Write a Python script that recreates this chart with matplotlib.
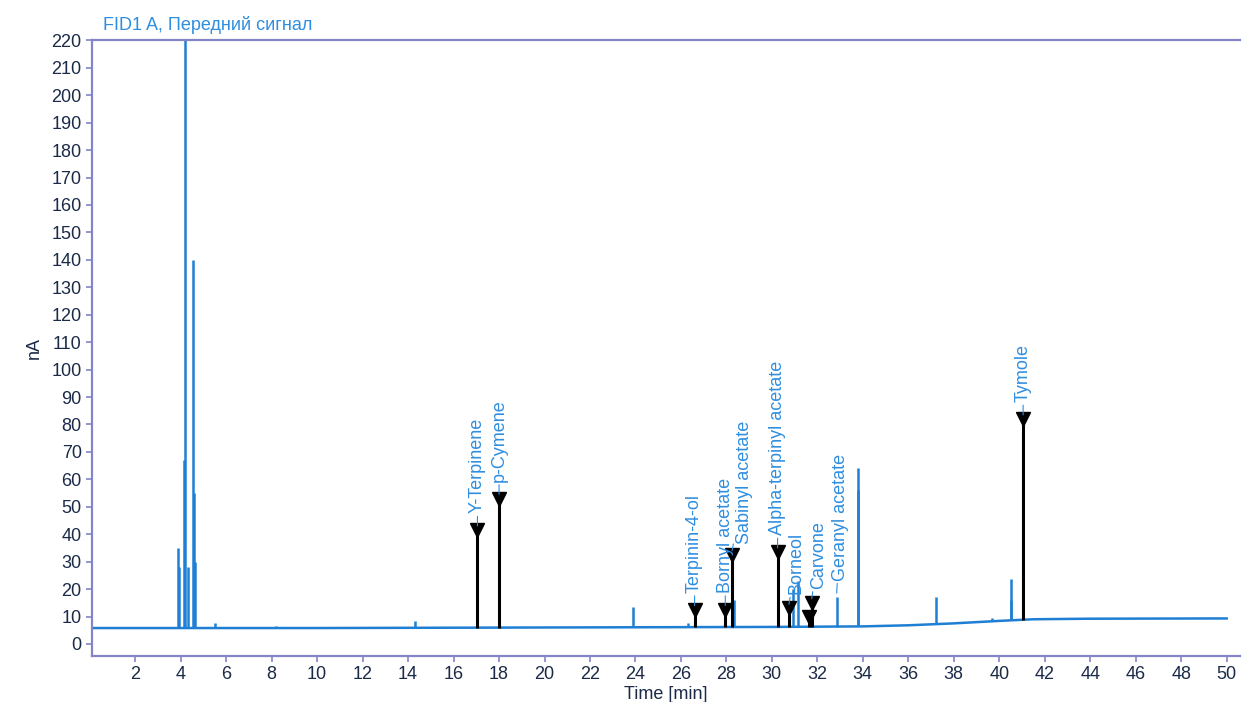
import matplotlib
matplotlib.use("Agg")
import matplotlib.pyplot as plt
import numpy as np

plt.rcParams['font.family'] = ['Liberation Sans', 'DejaVu Sans']

# baseline of the FID trace (time [min], signal [nA])
baseline_t = [0.1, 3.8, 5.0, 10, 15, 20, 25, 30, 34, 36, 38, 40, 41.5, 44, 50]
baseline_v = [5.8, 5.8, 5.8, 5.8, 5.9, 6.0, 6.1, 6.2, 6.4, 6.8, 7.5, 8.4, 9.0, 9.2, 9.3]

# unlabelled peaks (blue)
peak_t = [3.88, 3.93, 4.15, 4.2, 4.3, 4.55, 4.6, 4.62, 5.5, 8.2, 14.3, 23.9, 26.3,
          28.35, 30.95, 31.15, 32.85, 33.78, 33.8, 37.2, 39.7, 40.5, 40.52]
peak_h = [35, 28, 67, 230, 28, 140, 55, 30, 7.8, 6.6, 8.5, 13.5, 7.5,
          16, 20, 23, 17, 56, 64, 17, 9.5, 23.5, 16]

# identified peaks (labels)
ann_names = ["Y-Terpinene", "p-Cymene", "Terpinin-4-ol", "Bornyl acetate",
             "Sabinyl acetate", "Alpha-terpinyl acetate", "Borneol", "Carvone",
             "Geranyl acetate", "Tymole"]
ann_t = [17.05, 18.0, 26.6, 27.95, 28.25, 30.25, 30.75, 31.75, 32.85, 41.05]
ann_h = [41.5, 53, 12.5, 12.5, 32.5, 33.5, 13, 15, 17, 82]
ann_marker = [True, True, True, True, True, True, True, True, False, True]
extra_marker_t = [31.65]
extra_marker_h = [10]

# label offsets (points) for crowded labels
label_dx = [0, 0, 0, 0, 9, 0, 5, 5, 3, 0]
label_dy = [4, 4, 4, 4, 0, 4, 2, 2, 4, 4]

blue = '#1f7fd4'
text_blue = '#2f8ee0'
spine_c = '#8484c8'
tick_c = '#1b2a48'

fig = plt.figure(figsize=(12.44, 7.02), dpi=100)
ax = fig.add_axes([0.074, 0.0655, 0.923, 0.877])


def base_at(t):
    return np.interp(t, baseline_t, baseline_v)


ax.plot(baseline_t, baseline_v, color=blue, lw=1.8, zorder=2)
ax.vlines(peak_t, base_at(peak_t), peak_h, color=blue, lw=1.8, zorder=2)

bt = [t for t, m in zip(ann_t, ann_marker) if m] + extra_marker_t
bh = [h for h, m in zip(ann_h, ann_marker) if m] + extra_marker_h
ax.vlines(bt, base_at(bt), bh, color='black', lw=2.2, zorder=3)
ax.plot(bt, bh, 'v', color='black', markersize=10, zorder=4, clip_on=False)

for name, t, h, dx, dy in zip(ann_names, ann_t, ann_h, label_dx, label_dy):
    ax.annotate(name, xy=(t, h + 1.5), xytext=(dx, dy + 5), textcoords='offset points',
                rotation=90, ha='center', va='bottom', fontsize=13, color=text_blue,
                arrowprops=dict(arrowstyle='-', color=text_blue, lw=0.8,
                                shrinkA=0, shrinkB=0), zorder=5)

ax.set_xlim(0.1, 50.6)
ax.set_ylim(-4.4, 220)
ax.set_xticks(np.arange(2, 51, 2))
ax.set_yticks(np.arange(0, 221, 10))
ax.tick_params(axis='both', colors=spine_c, labelcolor=tick_c, labelsize=13,
               direction='out', length=4, width=1.2)

for s in ['left', 'bottom', 'top']:
    ax.spines[s].set_color(spine_c)
    ax.spines[s].set_linewidth(1.6)
ax.spines['right'].set_visible(False)

ax.set_xlabel("Time [min]", fontsize=13, color=tick_c, labelpad=2)
ax.set_ylabel("nA", fontsize=13, color=tick_c, labelpad=6)
fig.text(0.083, 0.964, "FID1 A, Передний сигнал", fontsize=13, color=text_blue,
         ha='left', va='center')

fig.savefig("out.png", dpi=100)
